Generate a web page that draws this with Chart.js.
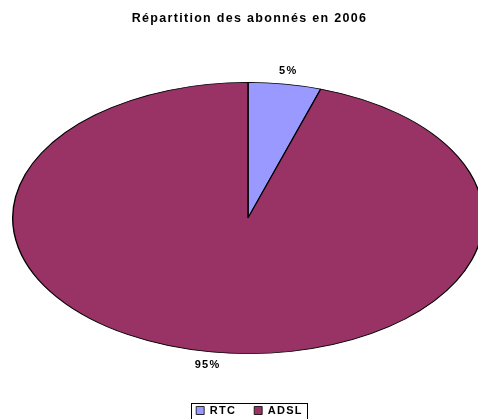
<!DOCTYPE html>
<html>
<head>
<meta charset="utf-8">
<script src="https://cdn.jsdelivr.net/npm/chart.js@4/dist/chart.umd.min.js"></script>
<style>
  body { margin: 0; background: #fff; }
  #wrap { width: 478px; height: 419px; }
</style>
</head>
<body>
<div id="wrap"><canvas id="pie-chart" width="478" height="419"></canvas></div>
<script>
const categories = ['RTC', 'ADSL'];
const shares = [5, 95];
const sliceColors = ['#9999FF', '#993366'];
const chartTitle = 'Répartition des abonnés en 2006';

// pie centre and radii of the ellipse (pixels)
const cx = 248, cy = 218, ry = 136, rx = 236;
const fontFamily = '"Liberation Sans", Arial, sans-serif';

// wider text, like the original (canvas resize resets the state, so set it again)
const spacing = {
    id: 'spacing',
    beforeUpdate(chart) { chart.ctx.letterSpacing = '1.3px'; },
    beforeDraw(chart) { chart.ctx.letterSpacing = '1.3px'; }
};

// force the pie into a square area, then stretch it horizontally
const ellipsePlugin = {
    id: 'ellipse',
    afterLayout(chart) {
        chart.chartArea = {
            left: cx - ry, right: cx + ry, top: cy - ry, bottom: cy + ry,
            width: ry * 2, height: ry * 2
        };
    },
    beforeDatasetsDraw(chart) {
        const ctx = chart.ctx;
        ctx.save();
        ctx.translate(cx, cy);
        ctx.scale(rx / ry, 1);
        ctx.translate(-cx, -cy);
    },
    afterDatasetsDraw(chart) {
        chart.ctx.restore();
    }
};

const percentLabels = {
    id: 'percentLabels',
    afterDraw(chart) {
        const ctx = chart.ctx;
        const meta = chart.getDatasetMeta(0);
        const total = shares.reduce((a, b) => a + b, 0);
        ctx.save();
        ctx.font = 'bold 11px ' + fontFamily;
        ctx.fillStyle = '#000';
        ctx.textAlign = 'center';
        ctx.textBaseline = 'middle';
        meta.data.forEach((arc, i) => {
            const mid = (arc.startAngle + arc.endAngle) / 2;
            const r = arc.outerRadius + 13;
            const x = cx + Math.cos(mid) * r * rx / ry;
            const y = cy + Math.sin(mid) * r;
            ctx.fillText(Math.round(shares[i] / total * 100) + '%', x, y);
        });
        ctx.restore();

        // frame round the legend
        const boxes = chart.legend.legendHitBoxes;
        if (boxes && boxes.length) {
            const left = Math.min(...boxes.map(b => b.left)) - 5;
            const right = Math.max(...boxes.map(b => b.left + b.width)) + 4;
            const top = Math.min(...boxes.map(b => b.top)) - 2;
            const bottom = Math.max(...boxes.map(b => b.top + b.height)) + 3;
            ctx.save();
            ctx.strokeStyle = '#000';
            ctx.lineWidth = 1;
            ctx.strokeRect(Math.round(left) + 0.5, Math.round(top) + 0.5, Math.round(right - left), Math.round(bottom - top));
            ctx.restore();
        }
    }
};

new Chart(document.getElementById('pie-chart'), {
    type: 'pie',
    data: {
        labels: categories,
        datasets: [{
            data: shares,
            backgroundColor: sliceColors,
            borderColor: '#000',
            borderWidth: 0.8,
            clip: false
        }]
    },
    options: {
        responsive: false,
        animation: false,
        layout: { padding: { left: 21, bottom: -7 } },
        plugins: {
            tooltip: { enabled: false },
            title: {
                display: true,
                text: chartTitle,
                color: '#000',
                font: { family: fontFamily, size: 12.5, weight: 'bold' },
                padding: { top: 11, bottom: 10 }
            },
            legend: {
                position: 'bottom',
                labels: {
                    color: '#000',
                    font: { family: fontFamily, size: 11, weight: 'bold' },
                    boxWidth: 8,
                    boxHeight: 8,
                    padding: 18
                }
            }
        }
    },
    plugins: [spacing, ellipsePlugin, percentLabels]
});
</script>
</body>
</html>
